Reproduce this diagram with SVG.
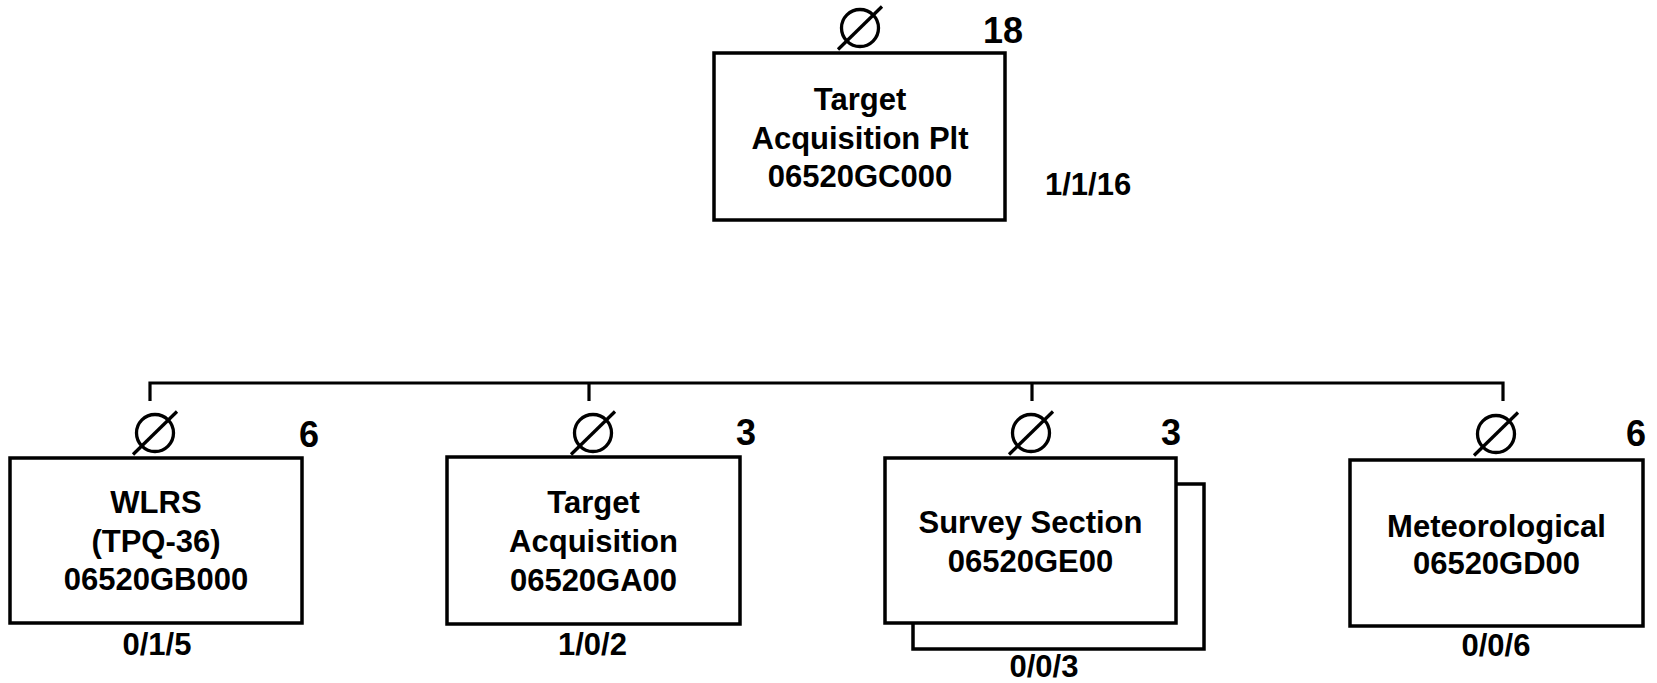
<svg xmlns="http://www.w3.org/2000/svg" width="1657" height="683" viewBox="0 0 1657 683">
<style>
.box{fill:#fff;stroke:#000;stroke-width:3.5}
.ln{fill:none;stroke:#000;stroke-width:3.2}
.sym{fill:none;stroke:#000;stroke-width:3.3}
text{font-family:"Liberation Sans",Arial,sans-serif;font-weight:bold;fill:#000}
.t{font-size:31px;text-anchor:middle}
.n{font-size:36px;text-anchor:end}
.s{font-size:31px;text-anchor:middle}
</style>
<defs>
<g id="null">
<circle cx="0" cy="0" r="18.5" class="sym"/>
<line x1="-22" y1="21.5" x2="22" y2="-21.5" class="sym"/>
</g>
</defs>
<rect width="1657" height="683" fill="#fff"/>
<g id="connectors">
<polyline class="ln" points="150,401 150,383 1503,383 1503,401"/>
<line class="ln" x1="589" y1="383" x2="589" y2="401"/>
<line class="ln" x1="1032" y1="383" x2="1032" y2="401"/>
</g>
<g id="node-plt">
<rect class="box" x="714" y="53" width="291" height="167"/>
<use href="#null" x="860" y="28"/>
<text class="n" x="1023" y="43">18</text>
<text class="t" x="860" y="110">Target</text>
<text class="t" x="860" y="148.5">Acquisition Plt</text>
<text class="t" x="860" y="187">06520GC000</text>
<text x="1045" y="195" font-size="31">1/1/16</text>
</g>
<g id="node-wlrs">
<rect class="box" x="10" y="458" width="292" height="165"/>
<use href="#null" x="155" y="433"/>
<text class="n" x="319" y="447">6</text>
<text class="t" x="156" y="513">WLRS</text>
<text class="t" x="156" y="552">(TPQ-36)</text>
<text class="t" x="156" y="590">06520GB000</text>
<text class="s" x="157" y="655">0/1/5</text>
</g>
<g id="node-ta">
<rect class="box" x="447" y="457" width="293" height="167"/>
<use href="#null" x="593" y="433"/>
<text class="n" x="756" y="445">3</text>
<text class="t" x="593.5" y="513">Target</text>
<text class="t" x="593.5" y="552">Acquisition</text>
<text class="t" x="593.5" y="591">06520GA00</text>
<text class="s" x="592.5" y="655">1/0/2</text>
</g>
<g id="node-survey">
<rect class="box" x="913" y="484" width="291" height="165"/>
<rect class="box" x="885" y="458" width="291" height="165"/>
<use href="#null" x="1031" y="433"/>
<text class="n" x="1181" y="445">3</text>
<text class="t" x="1030.5" y="533">Survey Section</text>
<text class="t" x="1030.5" y="572">06520GE00</text>
<text class="s" x="1044" y="677">0/0/3</text>
</g>
<g id="node-met">
<rect class="box" x="1350" y="460" width="293" height="166"/>
<use href="#null" x="1496" y="434"/>
<text class="n" x="1646" y="446">6</text>
<text class="t" x="1496.5" y="537">Meteorological</text>
<text class="t" x="1496.5" y="574">06520GD00</text>
<text class="s" x="1496" y="656">0/0/6</text>
</g>
</svg>
